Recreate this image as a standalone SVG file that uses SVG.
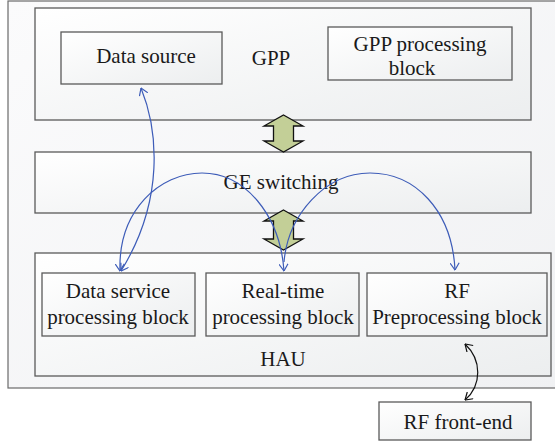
<svg xmlns="http://www.w3.org/2000/svg" width="555" height="442" viewBox="0 0 555 442">
  <style>
    .box { stroke: #5a5a5a; stroke-width: 1.3; fill: url(#boxFill); }
    .frame { stroke: #6a6a6a; stroke-width: 1.2; fill: url(#frameFill); }
    .lbl { font-family: "Liberation Serif", "Times New Roman", serif; font-size: 21px; fill: #1a1a1a; text-anchor: middle; }
    .bus { fill: #c3cf97; stroke: #111; stroke-width: 1.3; stroke-linejoin: miter; }
    .link { fill: none; stroke: #3d5cb8; stroke-width: 1.2; }
    .rf { fill: none; stroke: #111; stroke-width: 1.2; }
  </style>
  <defs>
    <linearGradient id="boxFill" x1="0" y1="0" x2="1" y2="1">
      <stop offset="0" stop-color="#ffffff"/>
      <stop offset="1" stop-color="#eceeef"/>
    </linearGradient>
    <linearGradient id="frameFill" x1="0" y1="0" x2="1" y2="1">
      <stop offset="0" stop-color="#fbfbfc"/>
      <stop offset="1" stop-color="#f0f1f3"/>
    </linearGradient>
    <marker id="headBlue" viewBox="0 0 8 10" refX="7.5" refY="5" markerWidth="8" markerHeight="10" markerUnits="userSpaceOnUse" orient="auto-start-reverse">
      <path d="M0.5,0.5 L7.5,5 L0.5,9.5" fill="none" stroke="#3d5cb8" stroke-width="1.2"/>
    </marker>
    <marker id="headBlack" viewBox="0 0 8 10" refX="7.5" refY="5" markerWidth="8" markerHeight="10" markerUnits="userSpaceOnUse" orient="auto-start-reverse">
      <path d="M0.5,0.5 L7.5,5 L0.5,9.5" fill="none" stroke="#111" stroke-width="1.2"/>
    </marker>
  </defs>

  <rect width="555" height="442" fill="#ffffff"/>

  <!-- enclosing frame -->
  <g id="system">
    <rect class="frame" x="8" y="1" width="560" height="387"/>
  </g>

  <!-- GPP -->
  <g id="gpp">
    <rect class="box" x="35" y="8" width="496" height="112"/>
    <text class="lbl" x="271" y="65">GPP</text>
  </g>
  <g id="data-source">
    <rect class="box" x="61" y="32" width="161" height="52"/>
    <text class="lbl" x="146" y="63">Data source</text>
  </g>
  <g id="gpp-processing">
    <rect class="box" x="328" y="27" width="184" height="53"/>
    <text class="lbl" x="420" y="51">GPP processing</text>
    <text class="lbl" x="412" y="75">block</text>
  </g>

  <!-- GE switching -->
  <g id="ge-switching">
    <rect class="box" x="35" y="152" width="496" height="61"/>
    <text class="lbl" x="281" y="189">GE switching</text>
  </g>

  <!-- HAU -->
  <g id="hau">
    <rect class="box" x="35" y="253" width="516" height="123"/>
    <text class="lbl" x="283" y="366">HAU</text>
  </g>
  <g id="data-service">
    <rect class="box" x="42" y="273" width="153" height="63"/>
    <text class="lbl" x="118" y="298">Data service</text>
    <text class="lbl" x="118" y="324">processing block</text>
  </g>
  <g id="real-time">
    <rect class="box" x="206" y="273" width="153" height="63"/>
    <text class="lbl" x="283" y="298">Real-time</text>
    <text class="lbl" x="283" y="324">processing block</text>
  </g>
  <g id="rf-preprocessing">
    <rect class="box" x="367" y="273" width="180" height="63"/>
    <text class="lbl" x="457" y="298">RF</text>
    <text class="lbl" x="457" y="324">Preprocessing block</text>
  </g>

  <!-- RF front-end -->
  <g id="rf-front-end">
    <rect class="box" x="379" y="402" width="152" height="38"/>
    <text class="lbl" x="458" y="429">RF front-end</text>
  </g>

  <!-- connectors -->
  <g id="connectors">
    <path class="bus" d="M283.5,115 L303,126 L293.5,126 L293.5,141 L303,141 L283.5,152 L264,141 L273.5,141 L273.5,126 L264,126 Z"/>
    <path class="bus" d="M283.5,210 L303,221 L293.5,221 L293.5,239 L303,239 L283.5,250 L264,239 L273.5,239 L273.5,221 L264,221 Z"/>
    <path class="link" d="M121,271 C165,200 158,130 141,88" marker-start="url(#headBlue)" marker-end="url(#headBlue)"/>
    <path class="link" d="M284,271 C280,215 245,173 202,173 C160,173 118,210 120,271" marker-start="url(#headBlue)" marker-end="url(#headBlue)"/>
    <path class="link" d="M284,262 C288,215 325,173 370,173 C415,173 452,210 455,270" marker-end="url(#headBlue)"/>
    <path class="rf" d="M465,344 C482,360 482,385 465,400" marker-start="url(#headBlack)" marker-end="url(#headBlack)"/>
  </g>
</svg>
